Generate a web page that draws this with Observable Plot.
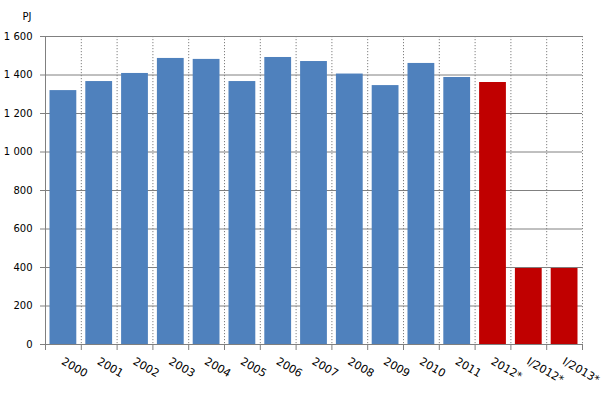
<!DOCTYPE html>
<html>
<head>
<meta charset="utf-8">
<script src="https://cdn.jsdelivr.net/npm/d3@7"></script>
<script src="https://cdn.jsdelivr.net/npm/@observablehq/plot@0.6"></script>
<style>
  body { margin: 0; background: #fff; }
  #chart { position: absolute; left: 0; top: 0; }
</style>
</head>
<body>
<div id="chart"></div>
<script>
const categories = ["2000","2001","2002","2003","2004","2005","2006","2007","2008","2009","2010","2011","2012*","I/2012*","I/2013*"];
const values = [1319, 1366, 1408, 1486, 1481, 1366, 1491, 1470, 1405, 1345, 1460, 1387, 1361, 395, 395];
const kinds = ["final","final","final","final","final","final","final","final","final","final","final","final","prelim","prelim","prelim"];
const yTicks = [0, 200, 400, 600, 800, 1000, 1200, 1400, 1600];
const unitLabel = "PJ";

const data = categories.map((c, i) => ({i, label: c, value: values[i], kind: kinds[i]}));
const boundaries = d3.range(categories.length + 1);
const fmt = d3.formatLocale({thousands: " ", grouping: [3], decimal: ","}).format(",");

const chart = Plot.plot({
  width: 607,
  height: 418,
  marginLeft: 45,
  marginRight: 25,
  marginTop: 36,
  marginBottom: 74,
  style: {fontFamily: "'DejaVu Sans', Verdana, sans-serif", fontSize: "10px", color: "#000", background: "#fff"},
  x: {type: "linear", domain: [0, categories.length], axis: null},
  y: {domain: [0, 1600], axis: null},
  color: {domain: ["final", "prelim"], range: ["#4F81BD", "#C00000"]},
  marks: [
    Plot.ruleY(yTicks.slice(1), {stroke: "#808080", strokeWidth: 1, strokeOpacity: 1}),
    Plot.ruleX(boundaries.slice(1), {stroke: "#808080", strokeWidth: 1, strokeDasharray: "1.2,1.8", strokeOpacity: 1}),
    Plot.rectY(data, {x1: "i", x2: d => d.i + 1, y1: 0, y2: "value", fill: "kind", insetLeft: 4.5, insetRight: 4.5}),
    Plot.ruleY([0], {stroke: "#808080", strokeWidth: 1, strokeOpacity: 1}),
    Plot.ruleX([0], {stroke: "#808080", strokeWidth: 1, strokeOpacity: 1}),
    Plot.axisX({ticks: boundaries, tickFormat: () => "", tickSize: 6, stroke: "#808080", strokeOpacity: 1, label: null}),
    Plot.axisY({ticks: yTicks, tickFormat: fmt, tickSize: 5, tickPadding: 8, stroke: "#808080", strokeOpacity: 1, fill: "#000", label: null}),
    Plot.text(data, {x: d => d.i + 0.5, text: "label", frameAnchor: "bottom", dy: 16, dx: -1, rotate: 30, textAnchor: "start", lineAnchor: "middle", fill: "#000", fontSize: 11}),
    Plot.text([unitLabel], {frameAnchor: "top-left", dx: -23, dy: -17, textAnchor: "start", lineAnchor: "bottom", fill: "#000"})
  ]
});
document.getElementById("chart").appendChild(chart);
</script>
</body>
</html>
